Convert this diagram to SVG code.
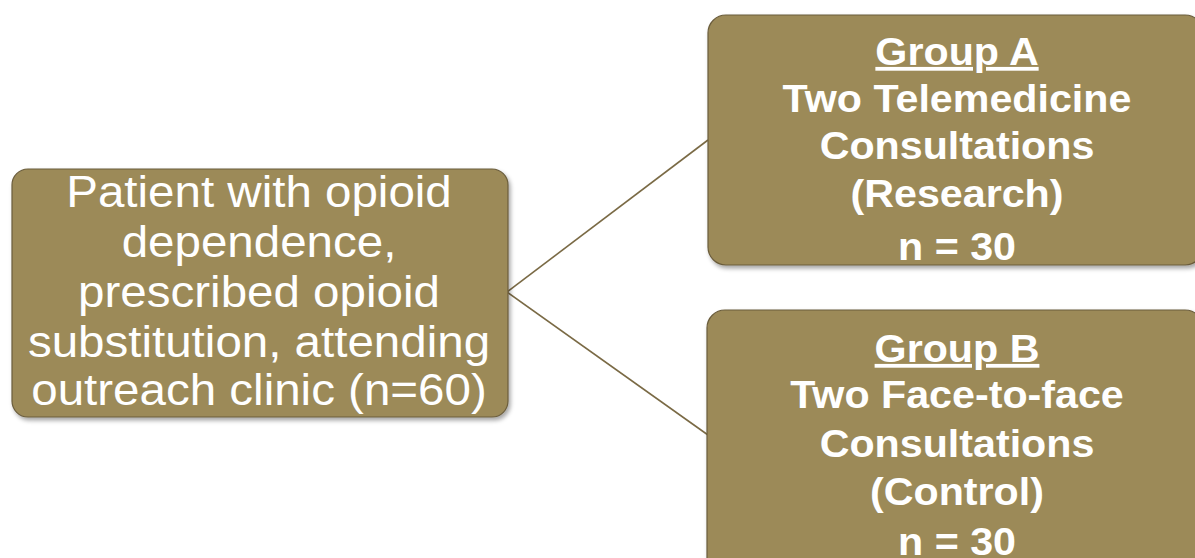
<svg xmlns="http://www.w3.org/2000/svg" width="1195" height="558" viewBox="0 0 1195 558">
<defs>
<filter id="sh" x="-5%" y="-5%" width="115%" height="120%">
<feDropShadow dx="2" dy="3" stdDeviation="2" flood-color="#000" flood-opacity="0.35"/>
</filter>
</defs>
<style>
.box{fill:#9C8A59;stroke:#6B5D3C;stroke-width:1.2;filter:url(#sh)}
.lt{font-family:"Liberation Sans",Arial,sans-serif;font-size:44px;fill:#fff;text-anchor:middle}
.bt{font-family:"Liberation Sans",Arial,sans-serif;font-size:38px;font-weight:bold;fill:#fff;text-anchor:middle}
.u{text-decoration:underline}
.conn{stroke:#7A6A45;stroke-width:1.6;fill:none}
</style>
<rect width="1195" height="558" fill="#fff"/>
<g id="connectors">
<line class="conn" x1="507" y1="292" x2="708" y2="140"/>
<line class="conn" x1="507" y1="292" x2="708" y2="435"/>
</g>
<g id="patient">
<rect class="box" x="12" y="169" width="496" height="248" rx="16"/>
<g transform="translate(259,0) scale(1.08,1)">
<text class="lt" x="0" y="207">Patient with opioid</text>
<text class="lt" x="0" y="257">dependence,</text>
<text class="lt" x="0" y="307">prescribed opioid</text>
<text class="lt" x="0" y="357">substitution, attending</text>
<text class="lt" x="0" y="405">outreach clinic (n=60)</text>
</g>
</g>
<g id="groupA">
<rect class="box" x="708" y="15" width="495" height="250" rx="18"/>
<g transform="translate(957,0) scale(1.085,1)">
<text class="bt u" x="0" y="65">Group A</text>
<text class="bt" x="0" y="112">Two Telemedicine</text>
<text class="bt" x="0" y="159">Consultations</text>
<text class="bt" x="0" y="207">(Research)</text>
<text class="bt" x="0" y="260">n = 30</text>
</g>
</g>
<g id="groupB">
<rect class="box" x="707" y="310" width="496" height="270" rx="18"/>
<g transform="translate(957,0) scale(1.085,1)">
<text class="bt u" x="0" y="362">Group B</text>
<text class="bt" x="0" y="408">Two Face-to-face</text>
<text class="bt" x="0" y="457">Consultations</text>
<text class="bt" x="0" y="505">(Control)</text>
<text class="bt" x="0" y="555">n = 30</text>
</g>
</g>
</svg>
